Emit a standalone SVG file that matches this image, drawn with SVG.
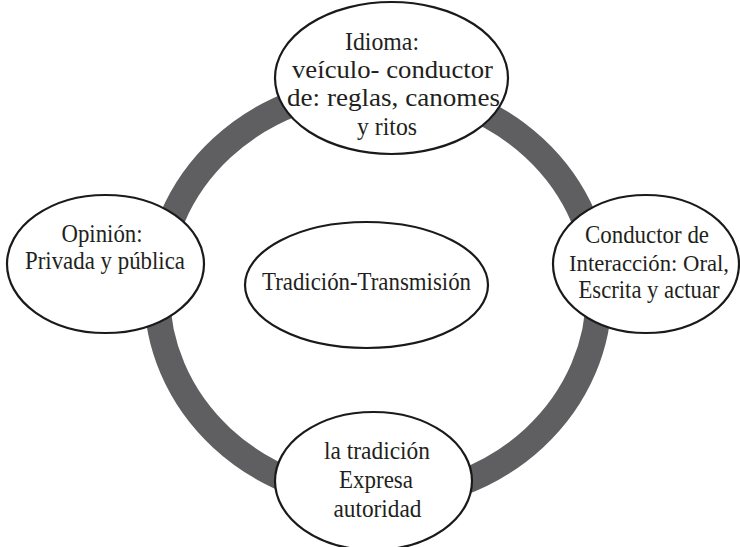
<svg xmlns="http://www.w3.org/2000/svg" width="740" height="547" viewBox="0 0 740 547">
  <style>
    .node ellipse { fill: #ffffff; stroke: #1a1a1a; stroke-width: 2.2; }
    .node text { font-family: "Liberation Serif", "Times New Roman", serif; font-size: 25px; fill: #231f20; text-anchor: middle; }
    .ring { fill: none; stroke: #5f5f61; stroke-width: 26; }
  </style>
  <rect width="740" height="547" fill="#ffffff"/>
  <g id="connectors">
    <ellipse class="ring" cx="378" cy="293" rx="221" ry="205"/>
  </g>
  <g id="node-idioma" class="node">
    <ellipse cx="391.5" cy="78" rx="116.5" ry="76"/>
    <text x="382" y="50" textLength="74" lengthAdjust="spacingAndGlyphs">Idioma:</text>
    <text x="392.5" y="78" textLength="201" lengthAdjust="spacingAndGlyphs">veículo- conductor</text>
    <text x="393.5" y="106" textLength="213" lengthAdjust="spacingAndGlyphs">de: reglas, canomes</text>
    <text x="387" y="135" textLength="60" lengthAdjust="spacingAndGlyphs">y ritos</text>
  </g>
  <g id="node-opinion" class="node">
    <ellipse cx="105.5" cy="264" rx="98.5" ry="69"/>
    <text x="102" y="242" textLength="81" lengthAdjust="spacingAndGlyphs">Opinión:</text>
    <text x="105" y="269" textLength="160" lengthAdjust="spacingAndGlyphs">Privada y pública</text>
  </g>
  <g id="node-conductor" class="node">
    <ellipse cx="646" cy="264" rx="93" ry="69"/>
    <text x="647" y="243" textLength="124" lengthAdjust="spacingAndGlyphs">Conductor de</text>
    <text x="649" y="271" style="font-size:23px" textLength="160" lengthAdjust="spacingAndGlyphs">Interacción: Oral,</text>
    <text x="649" y="298" textLength="141" lengthAdjust="spacingAndGlyphs">Escrita y actuar</text>
  </g>
  <g id="node-tradicion" class="node">
    <ellipse cx="373.5" cy="481" rx="98.5" ry="69"/>
    <text x="377" y="459" textLength="106" lengthAdjust="spacingAndGlyphs">la tradición</text>
    <text x="376" y="488" textLength="74" lengthAdjust="spacingAndGlyphs">Expresa</text>
    <text x="377.5" y="517" textLength="88" lengthAdjust="spacingAndGlyphs">autoridad</text>
  </g>
  <g id="node-centro" class="node">
    <ellipse cx="366.5" cy="285" rx="121.5" ry="63"/>
    <text x="366.5" y="290" textLength="209" lengthAdjust="spacingAndGlyphs">Tradición-Transmisión</text>
  </g>
</svg>
